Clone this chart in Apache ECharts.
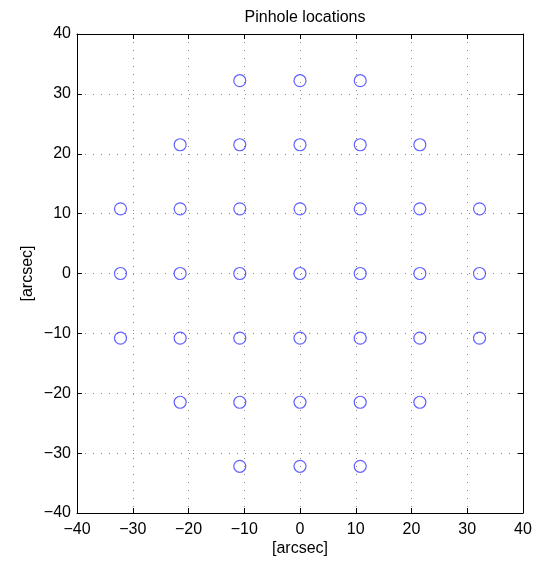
<!DOCTYPE html>
<html>
<head>
<meta charset="utf-8">
<script src="https://cdn.jsdelivr.net/npm/echarts@6/dist/echarts.min.js"></script>
<style>
  html, body { margin: 0; padding: 0; background: #fff; }
  #main { width: 551px; height: 565px; }
</style>
</head>
<body>
<div id="main"></div>
<script>
// pinhole positions, rows from top to bottom
const rowY = [32.2, 21.5, 10.8, 0, -10.8, -21.5, -32.2]
const rowX = [
  [-10.8, 0, 10.8],
  [-21.5, -10.8, 0, 10.8, 21.5],
  [-32.2, -21.5, -10.8, 0, 10.8, 21.5, 32.2],
  [-32.2, -21.5, -10.8, 0, 10.8, 21.5, 32.2],
  [-32.2, -21.5, -10.8, 0, 10.8, 21.5, 32.2],
  [-21.5, -10.8, 0, 10.8, 21.5],
  [-10.8, 0, 10.8]
]

const points = []
rowY.forEach((y, i) => {
  rowX[i].forEach(x => points.push([x, y]))
})

const font = 'Liberation Sans, Arial, Helvetica, sans-serif'

const gridLine = {
  show: true,
  lineStyle: { color: '#8a8a8a', width: 1, type: [1, 7] }
}
const axisLine = { show: true, onZero: false, lineStyle: { color: '#000', width: 1 } }
const ticks = { show: true, inside: true, length: 5, lineStyle: { color: '#000' } }

const chart = echarts.init(document.getElementById('main'))
chart.setOption({
  animation: false,
  title: {
    text: 'Pinhole locations',
    left: 300,
    textAlign: 'center',
    top: 5,
    textStyle: { fontFamily: font, fontSize: 16, fontWeight: 'normal', color: '#000' }
  },
  grid: { left: 77, right: 28, top: 34, bottom: 52 },
  xAxis: [
    {
      type: 'value', min: -40, max: 40, interval: 10,
      axisLine: axisLine, axisTick: ticks, splitLine: gridLine,
      axisLabel: { fontFamily: font, fontSize: 16, color: '#000', margin: 9,
        formatter: v => String(v).replace('-', '\u2212') },
      name: '[arcsec]', nameLocation: 'middle', nameGap: 28, nameMoveOverlap: false,
      nameTextStyle: { fontFamily: font, fontSize: 16, color: '#000' }
    },
    {
      type: 'value', min: -40, max: 40, interval: 10, position: 'top',
      axisLine: axisLine, axisTick: ticks, axisLabel: { show: false }, splitLine: { show: false }
    }
  ],
  yAxis: [
    {
      type: 'value', min: -40, max: 40, interval: 10,
      axisLine: axisLine, axisTick: ticks, splitLine: gridLine,
      axisLabel: { fontFamily: font, fontSize: 16, color: '#000', margin: 6,
        formatter: v => String(v).replace('-', '\u2212') },
      name: '[arcsec]', nameLocation: 'middle', nameGap: 41, nameRotate: 90, nameMoveOverlap: false,
      nameTextStyle: { fontFamily: font, fontSize: 16, color: '#000' }
    },
    {
      type: 'value', min: -40, max: 40, interval: 10, position: 'right',
      axisLine: axisLine, axisTick: ticks, axisLabel: { show: false }, splitLine: { show: false }
    }
  ],
  series: [
    {
      type: 'scatter',
      data: points,
      symbol: 'circle',
      symbolSize: 12,
      itemStyle: { color: 'transparent', borderColor: '#3a3aff', borderWidth: 1.2 }
    }
  ]
})
</script>
</body>
</html>
